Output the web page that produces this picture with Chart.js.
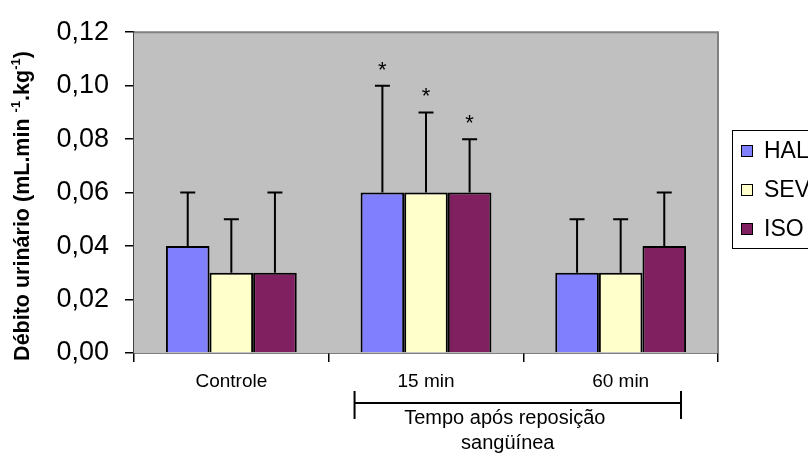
<!DOCTYPE html>
<html>
<head>
<meta charset="utf-8">
<script src="https://cdn.jsdelivr.net/npm/chart.js@4/dist/chart.umd.min.js"></script>
<style>
  html, body { margin: 0; padding: 0; background: #ffffff; }
  canvas { display: block; }
</style>
</head>
<body>
<canvas id="c" width="808" height="457"></canvas>
<script>
// ---- data ----
const categories = ['Controle', '15 min', '60 min'];
const seriesNames = ['HAL', 'SEV', 'ISO'];
const halValues = [0.04, 0.06, 0.03];
const sevValues = [0.03, 0.06, 0.03];
const isoValues = [0.03, 0.06, 0.04];
const halSD = [0.02, 0.04, 0.02];
const sevSD = [0.02, 0.03, 0.02];
const isoSD = [0.03, 0.02, 0.02];
const halSignificant = [false, true, false];
const sevSignificant = [false, true, false];
const isoSignificant = [false, true, false];
const yMin = 0, yMax = 0.12, yStep = 0.02;
const yTitleMain = 'Débito urinário (mL.min ';
const yTitleSup1 = '-1';
const yTitleMid = '.kg';
const yTitleSup2 = '-1';
const yTitleEnd = ')';
const xGroupTitle1 = 'Tempo após reposição';
const xGroupTitle2 = 'sangüínea';
const markText = '*';

const colors = ['#8080FF', '#FFFFCC', '#802060'];
const values = [halValues, sevValues, isoValues];
const sds = [halSD, sevSD, isoSD];
const sigs = [halSignificant, sevSignificant, isoSignificant];
const FONT = 'Arial, "Liberation Sans", sans-serif';

const decorPlugin = {
  id: 'decor',
  beforeDatasetsDraw(chart) {
    const { ctx, chartArea: a } = chart;
    ctx.save();
    ctx.fillStyle = '#C0C0C0';
    ctx.fillRect(a.left, a.top, a.right - a.left, a.bottom - a.top);
    ctx.strokeStyle = '#808080';
    ctx.lineWidth = 2;
    ctx.beginPath();
    ctx.moveTo(a.left, a.top);
    ctx.lineTo(a.right, a.top);
    ctx.lineTo(a.right, a.bottom);
    ctx.stroke();
    ctx.restore();
  },
  afterDatasetsDraw(chart) {
    const { ctx } = chart;
    const ys = chart.scales.y;
    const xs = chart.scales.x;
    ctx.save();
    // error bars
    ctx.strokeStyle = '#000';
    ctx.lineWidth = 2;
    values.forEach((vals, di) => {
      const meta = chart.getDatasetMeta(di);
      vals.forEach((v, i) => {
        const bar = meta.data[i];
        const x = bar.x;
        const yTop = ys.getPixelForValue(v + sds[di][i]);
        const yBar = ys.getPixelForValue(v);
        ctx.beginPath();
        ctx.moveTo(x, yBar);
        ctx.lineTo(x, yTop);
        ctx.moveTo(x - 7.5, yTop);
        ctx.lineTo(x + 7.5, yTop);
        ctx.stroke();
        if (sigs[di][i]) {
          ctx.fillStyle = '#000';
          ctx.font = '22px ' + FONT;
          ctx.textAlign = 'center';
          ctx.textBaseline = 'alphabetic';
          ctx.fillText(markText, x, yTop - 19 + 10);
        }
      });
    });
    // y-axis title with superscripts
    ctx.fillStyle = '#000';
    ctx.textBaseline = 'middle';
    ctx.textAlign = 'left';
    const big = 'bold 21.5px ' + FONT;
    const small = 'bold 13px ' + FONT;
    ctx.font = big; const w1 = ctx.measureText(yTitleMain).width;
    ctx.font = small; const w2 = ctx.measureText(yTitleSup1).width;
    ctx.font = big; const w3 = ctx.measureText(yTitleMid).width;
    ctx.font = small; const w4 = ctx.measureText(yTitleSup2).width;
    ctx.font = big; const w5 = ctx.measureText(yTitleEnd).width;
    const total = w1 + w2 + w3 + w4 + w5;
    ctx.translate(23, 206);
    ctx.rotate(-Math.PI / 2);
    let px = -total / 2;
    ctx.font = big; ctx.fillText(yTitleMain, px, 0); px += w1;
    ctx.font = small; ctx.fillText(yTitleSup1, px, -7); px += w2;
    ctx.font = big; ctx.fillText(yTitleMid, px, 0); px += w3;
    ctx.font = small; ctx.fillText(yTitleSup2, px, -7); px += w4;
    ctx.font = big; ctx.fillText(yTitleEnd, px, 0);
    ctx.setTransform(1, 0, 0, 1, 0, 0);

    // bracket under 15 min / 60 min
    const catW = (xs.right - xs.left) / categories.length;
    const c1 = xs.getPixelForValue(1);
    const c2 = xs.getPixelForValue(2);
    const bl = c1 - 0.367 * catW;
    const br = c2 + 0.31 * catW;
    ctx.strokeStyle = '#000';
    ctx.lineWidth = 2;
    ctx.beginPath();
    ctx.moveTo(bl, 403); ctx.lineTo(br, 403);
    ctx.moveTo(bl, 391); ctx.lineTo(bl, 419);
    ctx.moveTo(br, 391); ctx.lineTo(br, 419);
    ctx.stroke();
    ctx.font = '20px ' + FONT;
    ctx.textAlign = 'center';
    ctx.textBaseline = 'middle';
    const tx = (bl + br) / 2 - 13;
    ctx.fillText(xGroupTitle1, tx, 418);
    ctx.fillText(xGroupTitle2, tx + 3, 443);

    // legend
    ctx.strokeStyle = '#000';
    ctx.lineWidth = 1;
    ctx.strokeRect(732.5, 130.5, 120, 118);
    const ly = [151, 190, 229];
    ctx.font = '23px ' + FONT;
    ctx.textAlign = 'left';
    ctx.textBaseline = 'middle';
    seriesNames.forEach((n, i) => {
      ctx.fillStyle = colors[i];
      ctx.fillRect(741, ly[i] - 6, 12, 12);
      ctx.strokeRect(741.5, ly[i] - 5.5, 11, 11);
      ctx.fillStyle = '#000';
      ctx.fillText(n, 764, ly[i] + 1);
    });
    ctx.restore();
  }
};

const datasets = seriesNames.map((n, i) => ({
  label: n,
  data: values[i],
  backgroundColor: colors[i],
  borderColor: '#000',
  borderWidth: 2,
  barPercentage: 1.0,
  categoryPercentage: 0.672
}));

new Chart(document.getElementById('c'), {
  type: 'bar',
  data: { labels: categories, datasets },
  options: {
    responsive: false,
    animation: false,
    devicePixelRatio: 1,
    layout: { padding: { left: 0, top: 27, right: 90, bottom: 0 } },
    plugins: { legend: { display: false }, tooltip: { enabled: false } },
    scales: {
      x: {
        afterFit(s) { s.height = 104; },
        grid: { offset: true, drawOnChartArea: false, drawTicks: true, tickLength: 9, color: '#000', lineWidth: 1.5 },
        border: { display: true, color: '#000', width: 1.5 },
        ticks: { color: '#000', font: { family: FONT, size: 19 }, padding: 8 }
      },
      y: {
        min: yMin, max: yMax,
        afterFit(s) { s.width = 134; },
        grid: { drawOnChartArea: false, drawTicks: true, tickLength: 9, color: '#000', lineWidth: 1.5 },
        border: { display: true, color: '#404040', width: 2 },
        ticks: {
          stepSize: yStep,
          color: '#000',
          padding: 16,
          font: { family: FONT, size: 27 },
          callback: v => v.toFixed(2).replace('.', ',')
        }
      }
    }
  },
  plugins: [decorPlugin]
});
</script>
</body>
</html>
